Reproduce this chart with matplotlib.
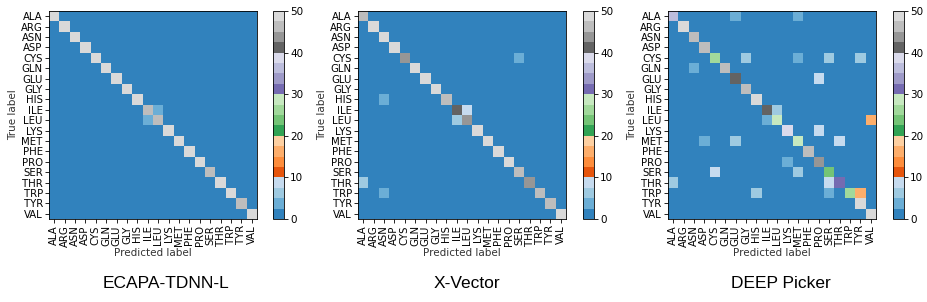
import numpy as np
import matplotlib
matplotlib.use("Agg")
import matplotlib.pyplot as plt

labels = ["ALA", "ARG", "ASN", "ASP", "CYS", "GLN", "GLU", "GLY", "HIS", "ILE",
          "LEU", "LYS", "MET", "PHE", "PRO", "SER", "THR", "TRP", "TYR", "VAL"]
titles = ["ECAPA-TDNN-L", "X-Vector", "DEEP Picker"]

# diagonal values (correct predictions) per model
ecapa_diag = [50, 50, 50, 50, 50, 50, 50, 50, 50, 46, 46, 50, 50, 50, 50, 46, 50, 50, 46, 50]
xvec_diag = [46, 50, 50, 50, 44, 50, 50, 50, 46, 41, 44, 50, 50, 50, 50, 46, 44, 46, 46, 50]
deep_diag = [36, 49, 46, 46, 26, 46, 41, 46, 49, 41, 29, 39, 28, 46, 44, 24, 31, 26, 49, 49]

# off-diagonal confusions: (true label, predicted label, count)
ecapa_off = [("ILE", "LEU", 4), ("LEU", "ILE", 4)]
xvec_off = [("CYS", "SER", 4), ("HIS", "ASN", 4), ("ILE", "LEU", 9), ("LEU", "ILE", 6),
            ("THR", "ALA", 6), ("TRP", "ASN", 4)]
deep_off = [("ALA", "GLU", 4), ("ALA", "MET", 4),
            ("CYS", "GLY", 6), ("CYS", "MET", 4), ("CYS", "SER", 6), ("CYS", "TYR", 6),
            ("GLN", "ASN", 4), ("GLU", "PRO", 9), ("ILE", "LEU", 7),
            ("LEU", "ILE", 4), ("LEU", "VAL", 16), ("LYS", "PRO", 9),
            ("MET", "ASP", 4), ("MET", "GLU", 6), ("MET", "THR", 9),
            ("PRO", "LYS", 4), ("SER", "CYS", 9), ("SER", "MET", 6),
            ("THR", "ALA", 6), ("THR", "SER", 9),
            ("TRP", "HIS", 6), ("TRP", "SER", 4), ("TRP", "TYR", 16)]


def build(diag, off):
    n = len(labels)
    m = np.zeros((n, n))
    for i, v in enumerate(diag):
        m[i, i] = v
    for t, p, v in off:
        m[labels.index(t), labels.index(p)] = v
    return m


mats = [build(ecapa_diag, ecapa_off), build(xvec_diag, xvec_off), build(deep_diag, deep_off)]

W, H = 927, 302
fig = plt.figure(figsize=(W / 100, H / 100), dpi=100)

ax_left = [49, 358, 668]
cb_left = [273, 583, 893]
title_x = [166, 467, 781]
top, bottom = 11, 219

for k in range(3):
    ax = fig.add_axes([ax_left[k] / W, (H - bottom) / H, 208 / W, (bottom - top) / H])
    im = ax.imshow(mats[k], cmap="tab20c", vmin=0, vmax=50, interpolation="nearest")
    ax.set_xticks(range(len(labels)))
    ax.set_yticks(range(len(labels)))
    ax.set_xticklabels(labels, rotation=90, fontsize=7.3)
    ax.set_yticklabels(labels, fontsize=7.3)
    ax.tick_params(length=3, width=0.6, pad=1.5)
    ax.set_xlabel("Predicted label", fontsize=7.5, color="#333333", labelpad=1)
    ax.set_ylabel("True label", fontsize=7.5, color="#333333", labelpad=2)
    for s in ax.spines.values():
        s.set_linewidth(0.6)
    cax = fig.add_axes([cb_left[k] / W, (H - bottom) / H, 11 / W, (bottom - top) / H])
    cb = fig.colorbar(im, cax=cax, ticks=[0, 10, 20, 30, 40, 50])
    cb.ax.tick_params(labelsize=7.5, length=3, width=0.6, pad=1.5)
    cb.outline.set_linewidth(0.6)
    fig.text(title_x[k] / W, (H - 283) / H, titles[k], ha="center", va="center",
             fontsize=12.5, family="Liberation Sans")

fig.savefig("out.png", dpi=100)
